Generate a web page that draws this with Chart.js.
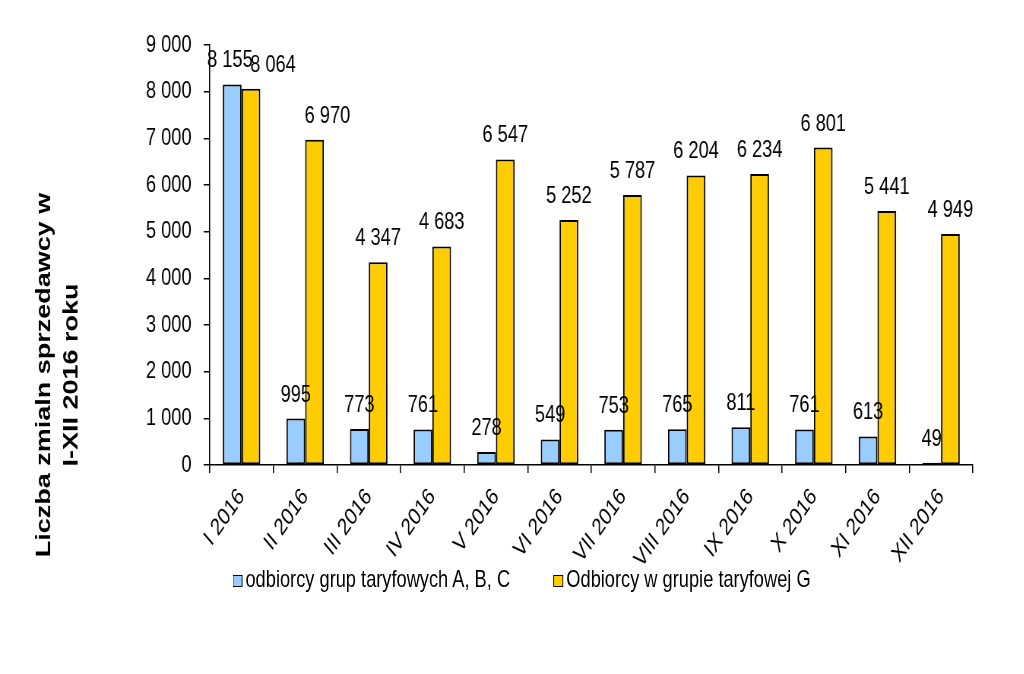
<!DOCTYPE html>
<html>
<head>
<meta charset="utf-8">
<script src="https://cdn.jsdelivr.net/npm/chart.js@4.4.1/dist/chart.umd.min.js"></script>
<style>
  html, body { margin: 0; padding: 0; background: #fff; overflow: hidden; }
  #wrap { position: absolute; left: 0; top: 0; width: 1347px; height: 674px; transform: scaleX(0.76); transform-origin: 0 0; }
  #legend { position: absolute; left: 306px; top: 565px; display: flex; align-items: center; font: 24px "Liberation Sans", Arial, sans-serif; color: #000; white-space: nowrap; }
  .item { display: flex; align-items: center; margin-right: 57px; }
  .box { width: 11px; height: 10px; border: 1.5px solid #000; margin-right: 4px; margin-top: 3px; }
</style>
</head>
<body>
<div id="wrap">
  <canvas id="chart" width="1347" height="674"></canvas>
  <div id="legend"></div>
</div>
<script>
const months = ['I 2016', 'II 2016', 'III 2016', 'IV 2016', 'V 2016', 'VI 2016',
                'VII 2016', 'VIII 2016', 'IX 2016', 'X 2016', 'XI 2016', 'XII 2016'];
const seriesNames = ['odbiorcy grup taryfowych A, B, C', 'Odbiorcy w grupie taryfowej G'];
const groupABC = [8155, 995, 773, 761, 278, 549, 753, 765, 811, 761, 613, 49];
const groupG = [8064, 6970, 4347, 4683, 6547, 5252, 5787, 6204, 6234, 6801, 5441, 4949];
const yMax = 9000;
const yStep = 1000;
const axisTitle = ['Liczba zmialn sprzedawcy w', 'I-XII 2016 roku'];

const FONT = '"Liberation Sans", Arial, sans-serif';

function fmt(v) {
    return String(v).replace(/\B(?=(\d{3})+(?!\d))/g, ' ');
}

// value labels over each bar
const valueLabels = {
    id: 'valueLabels',
    afterDatasetsDraw(chart, args, opts) {
        const ctx = chart.ctx;
        ctx.save();
        ctx.font = '24px ' + FONT;
        ctx.fillStyle = '#000';
        ctx.textAlign = 'center';
        ctx.textBaseline = 'alphabetic';
        chart.data.datasets.forEach((ds, di) => {
            chart.getDatasetMeta(di).data.forEach((bar, i) => {
                const shift = (opts.shift[di] && opts.shift[di][i]) || 0;
                ctx.fillText(fmt(ds.data[i]), bar.x + shift, bar.y - opts.gap);
            });
        });
        ctx.restore();
    }
};

// two-line y axis title, centred on the whole chart like in Excel
const sideTitle = {
    id: 'sideTitle',
    afterDraw(chart, args, opts) {
        const ctx = chart.ctx;
        ctx.save();
        ctx.translate(opts.x, opts.y);
        ctx.rotate(-Math.PI / 2);
        ctx.font = 'bold 27px ' + FONT;
        ctx.fillStyle = '#000';
        ctx.textAlign = 'center';
        ctx.textBaseline = 'middle';
        opts.lines.forEach((line, i) => ctx.fillText(line, 0, i * opts.gap));
        ctx.restore();
    }
};

const colors = ['#99CCFF', '#FFCC00'];

const chart = new Chart(document.getElementById('chart'), {
    type: 'bar',
    data: {
        labels: months,
        datasets: [
            { label: seriesNames[0], data: groupABC, backgroundColor: colors[0], borderColor: '#000', borderWidth: 2, borderSkipped: false },
            { label: seriesNames[1], data: groupG, backgroundColor: colors[1], borderColor: '#000', borderWidth: 2, borderSkipped: false }
        ]
    },
    options: {
        responsive: false,
        animation: false,
        categoryPercentage: 0.59,
        barPercentage: 1,
        layout: { padding: { left: 150, top: 45, right: 67, bottom: 99 } },
        scales: {
            x: {
                offset: true,
                grid: { offset: true, drawOnChartArea: false, color: '#000', tickLength: 8, lineWidth: 1.5 },
                border: { color: '#000', width: 1.5 },
                ticks: { color: '#000', font: { size: 24, family: FONT }, minRotation: 48, maxRotation: 48, padding: 10 },
                afterFit(scale) { scale.height = 110; }
            },
            y: {
                min: 0,
                max: yMax,
                grid: { drawOnChartArea: false, color: '#000', tickLength: 8, lineWidth: 1.5 },
                border: { color: '#000', width: 1.5 },
                ticks: { stepSize: yStep, color: '#000', font: { size: 24, family: FONT }, padding: 16, callback: v => fmt(v) },
                afterFit(scale) { scale.width = 126; }
            }
        },
        plugins: {
            legend: { display: false },
            tooltip: { enabled: false },
            valueLabels: { gap: 17, shift: { 0: { 0: -3 }, 1: { 0: 29, 1: 17 } } },
            sideTitle: { lines: axisTitle, x: 59, y: 375, gap: 36 }
        }
    },
    plugins: [valueLabels, sideTitle]
});

// html legend built from the datasets
const legend = document.getElementById('legend');
chart.data.datasets.forEach(ds => {
    const item = document.createElement('div');
    item.className = 'item';
    item.innerHTML = `<span class="box" style="background:${ds.backgroundColor}"></span><span>${ds.label}</span>`;
    legend.appendChild(item);
});
</script>
</body>
</html>
